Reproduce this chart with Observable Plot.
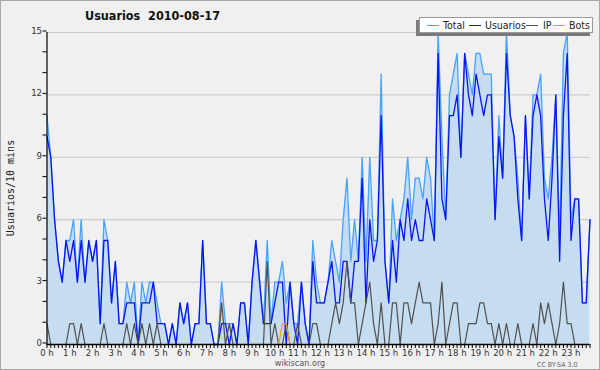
<!DOCTYPE html>
<html><head><meta charset="utf-8">
<script src="https://cdn.jsdelivr.net/npm/d3@7"></script>
<script src="https://cdn.jsdelivr.net/npm/@observablehq/plot@0.6"></script>
<style>
body{margin:0;background:#fff;}
#wrap{position:relative;width:600px;height:370px;background:#f0f0f0;font-family:"DejaVu Sans Condensed","DejaVu Sans",sans-serif;overflow:hidden;}
#border{position:absolute;left:0;top:0;width:598px;height:368px;border:1px solid #a8a8a8;pointer-events:none;}
#chart{position:absolute;left:0;top:0;}
.abs{position:absolute;white-space:pre;}
#title{left:85px;top:8px;font-size:12.5px;font-weight:bold;color:#111;}
#ylab{left:10px;top:188px;font-family:"DejaVu Sans Mono",monospace;font-size:10px;color:#222;transform:translate(-50%,-50%) rotate(-90deg);}
#legend{left:419px;top:17px;width:172px;height:14px;background:#fff;border:1px solid #999;box-shadow:-3px 3px 0 #7a7a7a;}
.lg{position:absolute;top:7px;width:12px;height:1px;}
.lt{position:absolute;top:0px;font-size:10.5px;color:#222;line-height:14px;}
#foot{left:0;width:600px;top:359px;line-height:9px;text-align:center;font-size:9px;color:#555;}
#cc{left:537px;top:361px;line-height:8px;font-size:7px;color:#666;}
</style></head><body>
<div id="wrap">
  <div id="chart"></div>
  <div id="title" class="abs"></div>
  <div id="ylab" class="abs"></div>
  <div id="legend" class="abs"></div>
  <div id="foot" class="abs">wikiscan.org</div>
  <div id="cc" class="abs">CC BY-SA 3.0</div>
  <div id="border"></div>
</div>
<script>
const chartTitle = "Usuarios  2010-08-17";
const yLabel = "Usuarios/10 mins";
const seriesNames = ["Total", "Usuarios", "IP", "Bots"];
const seriesColors = ["#46a3ff", "#0a14f5", "#505050", "#ff9a00"];
const hourLabels = d3.range(24).map(h => `${h} h`);
const yTickLabels = [0, 3, 6, 9, 12, 15];

const total = [
 11,9,6,4,3,5,5,6,3,6,
 3,5,4,5,1,6,5,2,4,1,
 1,3,2,3,0,3,2,3,3,2,
 1,1,0,1,0,2,1,2,0,1,
 1,5,1,1,0,0,3,1,1,1,
 0,2,2,0,3,5,3,1,5,1,
 3,3,4,2,3,1,1,3,1,0,
 5,3,2,2,3,5,4,3,6,8,
 4,6,4,9,4,9,5,5,13,4,
 2,7,5,6,7,9,6,8,8,7,
 9,8,5,15,10,6,12,13,14,9,
 14,13,12,14,14,13,13,13,6,11,
 8,15,11,10,8,5,11,7,12,12,
 13,8,7,9,12,5,14,15,6,7,
 7,2,2,6];
const usuarios = [
 10,9,6,4,3,5,4,5,3,5,
 3,5,4,5,1,5,5,2,4,1,
 1,2,2,2,0,2,2,2,3,1,
 1,1,0,1,0,2,1,2,0,1,
 1,5,1,1,0,0,1,1,0,1,
 0,2,2,0,3,5,3,1,1,1,
 2,3,3,0,3,1,0,3,1,0,
 4,2,2,2,3,4,2,2,4,4,
 2,4,4,8,2,6,4,5,11,4,
 2,5,3,6,5,7,5,6,5,5,
 7,6,5,14,7,6,11,11,12,9,
 14,12,11,13,12,11,12,12,6,10,
 8,14,11,10,7,5,11,7,11,12,
 11,7,5,8,12,4,11,14,5,7,
 7,2,2,6];
const ip = [
 1,0,0,0,0,0,1,1,0,1,
 0,0,0,0,0,1,0,0,0,0,
 0,1,0,1,0,1,0,1,0,1,
 0,0,0,0,0,0,0,0,0,0,
 0,0,0,0,0,0,2,0,1,0,
 0,0,0,0,0,0,0,0,4,0,
 1,0,0,1,0,0,1,0,0,0,
 1,1,0,0,0,1,2,1,2,4,
 2,2,0,1,2,3,1,0,2,0,
 0,2,2,0,2,2,1,2,3,2,
 2,2,0,1,3,0,1,2,2,0,
 0,1,1,1,2,2,1,1,0,1,
 0,1,0,0,1,0,0,0,1,0,
 2,1,2,1,0,1,3,1,1,0,
 0,0,0,0];
const bots = [
 0,0,0,0,0,0,0,0,0,0,
 0,0,0,0,0,0,0,0,0,0,
 0,0,0,0,0,0,0,0,0,0,
 0,0,0,0,0,0,0,0,0,0,
 0,0,0,0,0,0,0,0,0,0,
 0,0,0,0,0,0,0,0,0,0,
 0,0,1,1,0,0,0,0,0,0,
 0,0,0,0,0,0,0,0,0,0,
 0,0,0,0,0,0,0,0,0,0,
 0,0,0,0,0,0,0,0,0,0,
 0,0,0,0,0,0,0,0,0,0,
 0,0,0,0,0,0,0,0,0,0,
 0,0,0,0,0,0,0,0,0,0,
 0,0,0,0,0,0,0,0,0,0,
 0,0,0,0];

const data = total.map((t, i) => ({i, total: t, usuarios: usuarios[i], ip: ip[i], bots: bots[i]}));

const plot = Plot.plot({
  width: 600, height: 370,
  marginLeft: 46.5, marginRight: 10.5, marginTop: 32, marginBottom: 26,
  style: {background: "transparent", fontFamily: "'DejaVu Sans Condensed','DejaVu Sans',sans-serif", fontSize: "10px", color: "#222", overflow: "visible"},
  x: {domain: [0, 143], axis: null},
  y: {domain: [0, 15], axis: null},
  marks: [
    Plot.gridY(yTickLabels.slice(1), {stroke: "#c6c6c6", strokeOpacity: 1}),
    Plot.areaY(data, {x: "i", y: "total", fill: "#c6dcf0", curve: "linear"}),
    Plot.lineY(data, {x: "i", y: "total", stroke: seriesColors[0], strokeWidth: 1.3}),
    Plot.lineY(data, {x: "i", y: "usuarios", stroke: seriesColors[1], strokeWidth: 1.3}),
    Plot.lineY(data, {x: "i", y: "ip", stroke: seriesColors[2], strokeWidth: 1.2}),
    Plot.lineY(data, {x: "i", y: "bots", stroke: seriesColors[3], strokeWidth: 1.2}),
    Plot.ruleY([0], {stroke: "#000", strokeWidth: 1.6}),
    Plot.ruleX([0], {stroke: "#000", strokeWidth: 1.2}),
    Plot.axisX({ticks: d3.range(0, 144), tickSize: 4, tickPadding: 0.5, stroke: "#000", strokeOpacity: 1, fontSize: 9.5,
      tickFormat: i => i % 6 === 0 ? hourLabels[i / 6] : "", fill: "#333", label: null}),
    Plot.axisY({ticks: d3.range(0, 16), tickSize: 4, tickPadding: 1, stroke: "#000", strokeOpacity: 1, fontSize: 9.5, dy: -1.5,
      tickFormat: d => yTickLabels.includes(d) ? String(d) : "", fill: "#333", label: null})
  ]
});
document.getElementById("chart").appendChild(plot);
document.getElementById("title").textContent = chartTitle;
document.getElementById("ylab").textContent = yLabel;

const lg = document.getElementById("legend");
const lineX = [7, 49, 106, 133];
const textX = [23, 65, 123, 149];
seriesNames.forEach((n, k) => {
  const l = document.createElement("div");
  l.className = "lg"; l.style.left = lineX[k] + "px"; l.style.background = seriesColors[k];
  lg.appendChild(l);
  const t = document.createElement("div");
  t.className = "lt"; t.style.left = textX[k] + "px"; t.textContent = n;
  lg.appendChild(t);
});
</script>
</body></html>
